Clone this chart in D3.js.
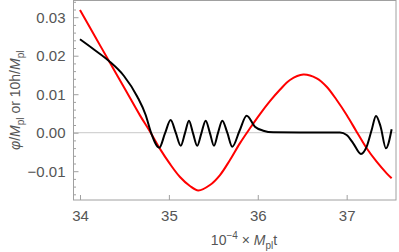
<!DOCTYPE html>
<html lang="en">
<head>
  <meta charset="UTF-8">
  <title>phi and h oscillations</title>
  <style>
    html,
    body {
      margin: 0;
      padding: 0;
      background: #fff;
    }

    text {
      font-family: "Liberation Sans", Arial, sans-serif;
      fill: #555;
    }
  </style>
</head>
<body>
<div id="chart"></div>

<script src="https://d3js.org/d3.v7.min.js"></script>
<script>
  // values (x in units of 10^4 / M_pl)
  const redX = [34.000, 34.169, 34.326, 34.506, 34.675, 34.787, 34.900, 35.012, 35.125, 35.237,
    35.331, 35.462, 35.575, 35.687, 35.800, 35.912, 36.025, 36.137, 36.249, 36.362,
    36.512, 36.663, 36.775, 36.888, 37.000, 37.112, 37.225, 37.337, 37.450, 37.506];
  const redY = [0.03187, 0.02499, 0.01862, 0.01135, 0.00450, 0.00032, -0.00420, -0.00810, -0.01150, -0.01384,
    -0.01500, -0.01358, -0.01099, -0.00709, -0.00270, 0.00115, 0.00485, 0.00820, 0.01115, 0.01369,
    0.01512, 0.01413, 0.01195, 0.00849, 0.00460, 0.00026, -0.00405, -0.00753, -0.01055, -0.01184];

  const blackX = [34.000, 34.157, 34.326, 34.495, 34.645, 34.739, 34.802, 34.892, 34.956, 35.020,
    35.077, 35.133, 35.181, 35.226, 35.271, 35.319, 35.366, 35.414, 35.462, 35.507,
    35.552, 35.601, 35.657, 35.713, 35.794, 35.875, 35.968, 36.062, 36.174, 36.475,
    36.925, 37.000, 37.074, 37.161, 37.225, 37.281, 37.330, 37.382, 37.442, 37.506];
  const blackY = [0.02426, 0.02161, 0.01862, 0.01473, 0.00935, 0.00460, -0.00016, -0.00390, -0.00020, 0.00330,
    0.00000, -0.00338, -0.00010, 0.00312, -0.00010, -0.00338, -0.00010, 0.00312, -0.00010, -0.00338,
    -0.00010, 0.00312, 0.00000, -0.00364, 0.00044, 0.00442, 0.00156, 0.00052, 0.00010, 0.00004,
    0.00003, -0.00060, -0.00275, -0.00553, -0.00364, 0.00070, 0.00434, 0.00156, -0.00405, 0.00088];

  const xTicks = [34, 35, 36, 37];
  const yTicks = [-0.01, 0.00, 0.01, 0.02, 0.03];

  const width = 399;
  const height = 252;

  const frame = { left: 73.5, right: 396, top: 0.5, bottom: 200 };

  const x = d3.scaleLinear()
    .domain([33.927, 37.555])
    .range([frame.left, frame.right]);

  const y = d3.scaleLinear()
    .domain([-0.01748, 0.03434])
    .range([frame.bottom, frame.top]);

  const svg = d3.select('#chart')
    .append('svg')
    .attr('width', width)
    .attr('height', height);

  // zero line
  svg.append('line')
    .attr('x1', frame.left)
    .attr('x2', frame.right)
    .attr('y1', y(0))
    .attr('y2', y(0))
    .attr('stroke', '#c8c8c8')
    .attr('stroke-width', 1);

  // frame
  svg.append('rect')
    .attr('x', frame.left)
    .attr('y', frame.top)
    .attr('width', frame.right - frame.left)
    .attr('height', frame.bottom - frame.top)
    .attr('fill', 'none')
    .attr('stroke', '#a0a0a0')
    .attr('stroke-width', 1);

  // x axis, ticks point inside
  const xAxis = svg.append('g')
    .attr('transform', `translate(0,${frame.bottom})`)
    .call(d3.axisBottom(x).tickValues(xTicks).tickSize(-5).tickPadding(10).tickFormat(d3.format('d')));

  // y axis with minor ticks
  const yMinor = d3.range(-16, 35, 2).map(d => d / 1000).filter(d => !yTicks.some(t => Math.abs(t - d) < 1e-9));

  svg.append('g')
    .attr('transform', `translate(${frame.left},0)`)
    .call(d3.axisLeft(y).tickValues(yMinor).tickSize(-2.5).tickFormat(''))
    .call(g => g.select('.domain').remove());

  const yAxis = svg.append('g')
    .attr('transform', `translate(${frame.left},0)`)
    .call(d3.axisLeft(y).tickValues(yTicks).tickSize(-5).tickPadding(8).tickFormat(d3.format('.2f')));

  [xAxis, yAxis].forEach(g => {
    g.select('.domain').remove();
    g.selectAll('text')
      .style('font-size', '15px')
      .attr('fill', '#555')
      .text(function() { return this.textContent.replace('-', '\u2212'); });
  });
  svg.selectAll('.tick line').attr('stroke', '#a0a0a0');

  // curves
  const line = curve => d3.line()
    .x(d => x(d[0]))
    .y(d => y(d[1]))
    .curve(curve);

  svg.append('path')
    .datum(d3.zip(redX, redY))
    .attr('d', line(d3.curveCatmullRom.alpha(0.5)))
    .attr('fill', 'none')
    .attr('stroke', '#ff0000')
    .attr('stroke-width', 2);

  svg.append('path')
    .datum(d3.zip(blackX, blackY))
    .attr('d', line(d3.curveMonotoneX))
    .attr('fill', 'none')
    .attr('stroke', '#000')
    .attr('stroke-width', 2);

  // x label: 10^-4 x M_pl t
  const xLabel = svg.append('text')
    .attr('x', 244)
    .attr('y', 245)
    .attr('text-anchor', 'middle')
    .style('font-size', '14px');
  xLabel.append('tspan').text('10');
  xLabel.append('tspan').attr('dy', -6).style('font-size', '10px').text('\u22124');
  xLabel.append('tspan').attr('dy', 6).text(' \u00d7 ');
  xLabel.append('tspan').style('font-style', 'italic').text('M');
  xLabel.append('tspan').attr('dy', 4).style('font-size', '10px').text('pl');
  xLabel.append('tspan').attr('dy', -4).text('t');

  // y label: phi/M_pl or 10h/M_pl
  const yLabel = svg.append('text')
    .attr('transform', `translate(20,${(frame.top + frame.bottom) / 2}) rotate(-90)`)
    .attr('text-anchor', 'middle')
    .style('font-size', '14px');
  yLabel.append('tspan').style('font-style', 'italic').text('\u03c6');
  yLabel.append('tspan').text('/');
  yLabel.append('tspan').style('font-style', 'italic').text('M');
  yLabel.append('tspan').attr('dy', 4).style('font-size', '10px').text('pl');
  yLabel.append('tspan').attr('dy', -4).text(' or 10h/');
  yLabel.append('tspan').style('font-style', 'italic').text('M');
  yLabel.append('tspan').attr('dy', 4).style('font-size', '10px').text('pl');
</script>
</body>
</html>
